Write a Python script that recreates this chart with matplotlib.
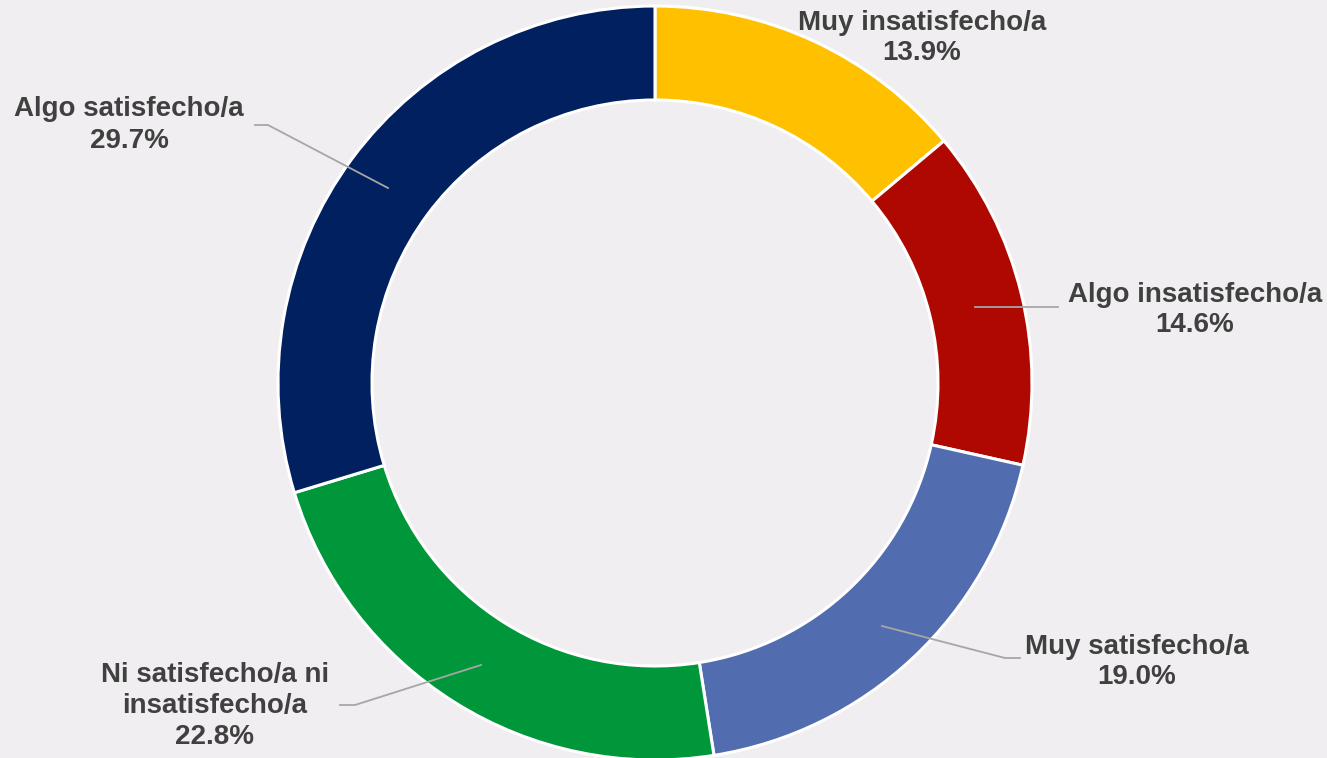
import matplotlib.pyplot as plt

# data, clockwise from 12 o'clock
labels = ["Muy insatisfecho/a", "Algo insatisfecho/a", "Muy satisfecho/a",
          "Ni satisfecho/a ni\ninsatisfecho/a", "Algo satisfecho/a"]
values = [13.9, 14.6, 19.0, 22.8, 29.7]
colors = ["#FFC000", "#AE0800", "#516DB0", "#00963A", "#002060"]

# label centres and leader lines (pixel coords, y from top)
label_pos = [(922, 38), (1195, 310), (1137, 662), (215, 706), (129, 125)]
leaders = [None,
           [(975, 307), (1058, 307)],
           [(882, 626), (1005, 658), (1020, 658)],
           [(481, 665), (355, 705), (340, 705)],
           [(388, 188), (268, 125), (255, 125)]]

W, H = 1327, 758
bg = "#F0EEF0"

fig = plt.figure(figsize=(W / 100, H / 100), dpi=100, facecolor=bg)
ax = fig.add_axes([0, 0, 1, 1])
ax.set_facecolor(bg)

cx, cy, r = 655, H - 383, 377
ax.pie(values, colors=colors, startangle=90, counterclock=False,
       center=(cx, cy), radius=r, frame=True,
       wedgeprops=dict(width=94, edgecolor="white", linewidth=2.2))
ax.set_xlim(0, W)
ax.set_ylim(0, H)
ax.axis("off")

for lab, v, (px, py), ln in zip(labels, values, label_pos, leaders):
    if ln:
        xs = [p[0] for p in ln]
        ys = [H - p[1] for p in ln]
        ax.plot(xs, ys, color="#A6A6A6", lw=1.3, zorder=3)
    ax.text(px, H - py, lab + "\n" + f"{v:.1f}%", ha="center", va="center",
            fontsize=20, fontweight="bold", color="#404040",
            family="Liberation Sans", linespacing=1.25)

fig.savefig("out.png", dpi=100, facecolor=bg)
